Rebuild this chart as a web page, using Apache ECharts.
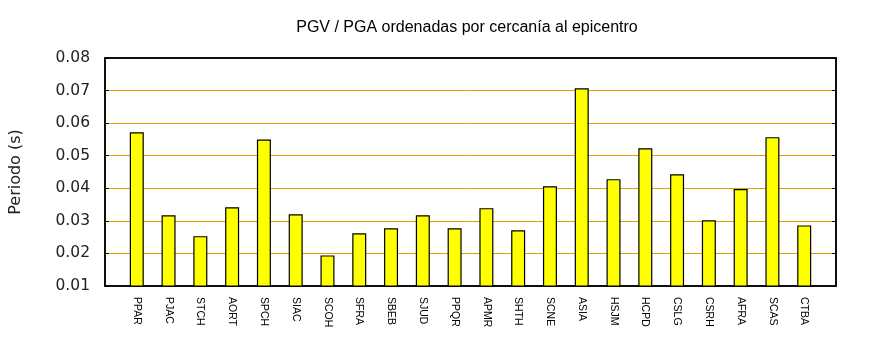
<!DOCTYPE html>
<html>
<head>
<meta charset="utf-8">
<script src="https://cdn.jsdelivr.net/npm/echarts@6/dist/echarts.min.js"></script>
<style>html,body{margin:0;padding:0;background:#fff}#c{width:870px;height:350px}</style>
</head>
<body>
<div id="c"></div>
<script>
const categories = ['PPAR','PJAC','STCH','AORT','SPCH','SIAC','SCOH','SFRA','SBEB','SJUD','PPQR','APMR','SHTH','SCNE','ASIA','HSJM','HCPD','CSLG','CSRH','AFRA','SCAS','CTBA'];
const values = [0.0572,0.0317,0.0253,0.0342,0.0550,0.0320,0.0194,0.0262,0.0277,0.0317,0.0277,0.0339,0.0271,0.0406,0.0707,0.0428,0.0523,0.0443,0.0302,0.0398,0.0557,0.0286];
const yTicks = [0.01,0.02,0.03,0.04,0.05,0.06,0.07,0.08];

const chart = echarts.init(document.getElementById('c'), null, {renderer:'canvas'});
const yBase = {
  type:'value', min: yTicks[0], max: yTicks[yTicks.length-1], interval: 0.01,
  axisLine:{show:true, onZero:false, lineStyle:{color:'#000', width:1.5}},
  axisTick:{show:true, inside:true, length:4, lineStyle:{color:'#000'}},
};
chart.setOption({
  animation:false,
  backgroundColor:'#fff',
  title:{
    text:'PGV / PGA ordenadas por cercanía al epicentro',
    left:462, top:15, textAlign:'center',
    textStyle:{fontFamily:'Liberation Sans', fontSize:16, fontWeight:'normal', color:'#000'}
  },
  grid:{left:101, right:34, top:58, bottom:64, show:true, borderColor:'#000', borderWidth:1.5, backgroundColor:'transparent'},
  xAxis:[{
    type:'value', min:-1, max:categories.length, interval:1,
    axisLine:{show:true, onZero:false, lineStyle:{color:'#000', width:1.5}},
    axisTick:{show:false}, splitLine:{show:false},
    axisLabel:{
      rotate:-90, margin:11, color:'#000', fontFamily:'Liberation Sans Narrow, Liberation Sans', fontSize:10.5,
      formatter:v => categories[v] || ''
    }
  },{
    type:'value', position:'top', min:-1, max:categories.length, interval:1,
    axisLine:{show:true, onZero:false, lineStyle:{color:'#000', width:1.5}},
    axisTick:{show:false}, splitLine:{show:false}, axisLabel:{show:false}
  }],
  yAxis:[
    Object.assign({}, yBase, {
      position:'left',
      name:'Periodo (s)', nameLocation:'middle', nameGap:81, nameRotate:90,
      nameTextStyle:{fontFamily:'DejaVu Sans', fontSize:16, color:'#222'},
      axisLabel:{margin:15, color:'#222', fontFamily:'DejaVu Sans', fontSize:15.5, formatter:v => v.toFixed(2)},
      splitLine:{show:true, showMinLine:false, showMaxLine:false, lineStyle:{color:'#e69f00', width:1}}
    }),
    Object.assign({}, yBase, {
      position:'right', axisLabel:{show:false}, splitLine:{show:false}
    })
  ],
  series:[{
    type:'bar', xAxisIndex:0, yAxisIndex:0, barWidth:14,
    data: values.map((v,i) => [i, v]),
    itemStyle:{color:'#ffff00', borderColor:'#000', borderWidth:1.2}
  }]
});
</script>
</body>
</html>
